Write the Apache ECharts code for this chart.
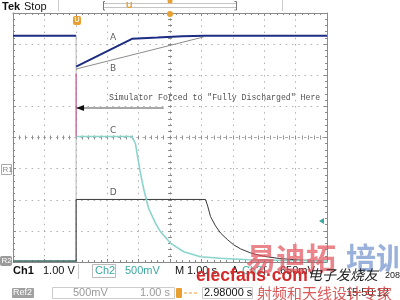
<!DOCTYPE html>
<html><head><meta charset="utf-8">
<script src="https://cdn.jsdelivr.net/npm/echarts@6/dist/echarts.min.js"></script>
<style>html,body{margin:0;padding:0;background:#fff}#c{width:400px;height:300px}</style>
</head><body><div id="c"></div>
<script>
// ---- data (time in divisions, level in divisions) ----
const aPreTime   = [0, 2.01];
const aPreLevel  = [7.27, 7.27];
const aTime  = [2.01, 3.79, 4.6, 5.4, 6.1, 10];
const aLevel = [6.28, 7.17, 7.21, 7.25, 7.27, 7.27];
const bTime  = [2.01, 6.07];
const bLevel = [6.20, 7.23];
const mTime  = [2.01, 2.01];
const mLevel = [6.06, 4.03];
const cPreTime  = [0, 2.01];
const cPreLevel = [0.03, 0.03];
const cTime  = [2.01, 3.79, 3.90, 3.97, 4.06, 4.17, 4.32, 4.54, 4.70, 5.02, 5.44, 5.97, 6.61, 7.5, 8.8, 10];
const cLevel = [4.03, 4.03, 3.80, 3.37, 2.85, 2.31, 1.72, 1.24, 0.97, 0.60, 0.33, 0.17, 0.12, 0.07, 0.05, 0.04];
const edgeTime  = [2.01, 2.01];
const edgeLevel = [0.03, 7.27];
const dTime  = [0, 2.01, 2.01, 6.13, 6.20, 6.29, 6.45, 6.61, 6.83, 7.03, 7.25, 7.57, 8.0, 8.5, 9.17, 10];
const dLevel = [0.03, 0.03, 2.01, 2.01, 1.80, 1.46, 1.16, 0.93, 0.72, 0.55, 0.42, 0.29, 0.18, 0.11, 0.06, 0.04];
const traceNames  = ['A', 'B', 'C', 'D'];
const traceLabelT = [3.19, 3.19, 3.19, 3.19];
const traceLabelV = [7.2, 6.2, 4.21, 2.22];
const noteText  = 'Simulator Forced to "Fully Discharged" Here';
const noteT = 3.04, noteV = 5.27;
const arrowT = [4.80, 2.04], arrowV = 4.95;

const zip = (t, v) => t.map((x, i) => [x, v[i]]);
const chart = echarts.init(document.getElementById('c'), null, {renderer: 'canvas'});

const G = '#8a8a8a';
function axis(dim, pos, offset, split, center) {
  return {
    type: 'value', gridIndex: 0, position: pos, offset: offset,
    min: 0, max: dim === 'x' ? 10 : 8, interval: 1,
    axisLine: {show: true, onZero: false, lineStyle: {color: center ? '#a8a8a8' : G, width: 1, type: center ? [1.5, 4.7] : 'solid'}},
    axisTick: {show: true, inside: true, length: center ? 2 : 3, lineStyle: {color: G}},
    minorTick: {show: true, splitNumber: 5, length: 2, lineStyle: {color: G}},
    axisLabel: {show: false},
    splitLine: {show: split, lineStyle: {color: '#b0b0b0', width: 1, type: [1.5, 4.7]}},
    minorSplitLine: {show: false}
  };
}

const orange = '#e8a030';
const teal = '#3aa8a0';
const txt = (x, y, s, style) => ({type: 'text', x: x, y: y, z: 100, style: Object.assign({text: s, fill: '#111', font: '11px "Liberation Sans"', verticalAlign: 'middle', align: 'left'}, style)});
const ln = (s, w, c) => ({type: 'line', symbol: 'none', data: s, lineStyle: {color: c, width: w}});

chart.setOption({
  animation: false,
  backgroundColor: '#fff',
  grid: {left: 13, right: 73, top: 13, bottom: 38},
  xAxis: [axis('x', 'bottom', 0, true), axis('x', 'top', 0, false), axis('x', 'bottom', -124.5, false, true), axis('x', 'top', -124.5, false, true)],
  yAxis: [axis('y', 'left', 0, true), axis('y', 'right', 0, false), axis('y', 'left', -157, false, true), axis('y', 'right', -157, false, true)],
  series: [
    ln(zip(edgeTime, edgeLevel), 0.8, '#a6a6a6'),
    ln(zip(cPreTime, cPreLevel), 1.5, '#6cc6bc'),
    ln(zip(dTime, dLevel), 1, '#3a3a3a'),
    ln(zip(cTime, cLevel), 1.6, '#8ad4cc'),
    ln(zip(bTime, bLevel), 1, '#8c8c8c'),
    ln(zip(aPreTime, aPreLevel), 2, '#1c2c82'),
    ln(zip(aTime, aLevel), 2, '#1c2c82'),
    ln(zip(mTime, mLevel), 1, '#d04a8a'),
    {type: 'line', data: zip(arrowT, [arrowV, arrowV]), symbol: 'none', lineStyle: {color: '#8a8a8a', width: 1.6},
      markPoint: {symbol: 'triangle', symbolSize: [6, 8], symbolRotate: 90, symbolOffset: [3, 0], itemStyle: {color: '#111'}, label: {show: false},
        data: [{coord: [arrowT[1], arrowV]}]}},
    {type: 'scatter', data: traceLabelT.map((t, i) => [t, traceLabelV[i], traceNames[i]]), symbolSize: 1,
      itemStyle: {color: 'transparent'},
      label: {show: true, position: 'inside', formatter: p => p.value[2], color: '#333', fontSize: 9, fontFamily: 'DejaVu Sans'}},
    {type: 'scatter', data: [[noteT, noteV, noteText]], symbolSize: 1, itemStyle: {color: 'transparent'},
      label: {show: true, position: 'right', distance: 0, formatter: p => p.value[2], color: '#222', fontSize: 8.2, fontFamily: 'Liberation Mono'}}
  ],
  graphic: [
    // top bar
    txt(2, 7, 'Tek', {font: 'bold 11px "Liberation Sans"'}),
    txt(24, 7, 'Stop', {font: '11px "Liberation Sans"'}),
    {type: 'line', shape: {x1: 58.5, y1: 0, x2: 58.5, y2: 11}, style: {stroke: '#ccc'}},
    {type: 'line', shape: {x1: 282.5, y1: 0, x2: 282.5, y2: 11}, style: {stroke: '#ccc'}},
    {type: 'rect', shape: {x: 103.5, y: 3.5, width: 133, height: 4}, style: {fill: 'none', stroke: '#c4c4c4'}},
    {type: 'polyline', shape: {points: [[105, 1.5], [103.5, 1.5], [103.5, 10], [105, 10]]}, style: {fill: 'none', stroke: '#777'}},
    {type: 'polyline', shape: {points: [[234.5, 1.5], [236.5, 1.5], [236.5, 10], [234.5, 10]]}, style: {fill: 'none', stroke: '#777'}},
    txt(126, 6, 'U', {font: 'bold 9px "Liberation Sans"', fill: orange}),
    {type: 'circle', shape: {cx: 170, cy: 1, r: 2.5}, style: {fill: orange}},
    // trigger position marker in plot
    {type: 'rect', shape: {x: 73, y: 16, width: 8, height: 9, r: 2}, style: {fill: orange}, z: 100},
    txt(74.5, 20.5, 'U', {font: 'bold 7px "Liberation Sans"', fill: '#fff3dc'}),
    {type: 'circle', shape: {cx: 170, cy: 14, r: 3}, style: {fill: orange}, z: 100},
    // side markers
    {type: 'rect', shape: {x: 1.5, y: 164.5, width: 10, height: 10}, style: {fill: '#fff', stroke: '#aaa'}},
    txt(2.5, 170, 'R1', {font: '8px "Liberation Sans"', fill: '#888'}),
    {type: 'rect', shape: {x: 0, y: 256, width: 12, height: 10, r: 2}, style: {fill: '#9a9a9a'}},
    txt(1.5, 261, 'R2', {font: '8px "Liberation Sans"', fill: '#fff'}),
    {type: 'polygon', shape: {points: [[319, 221], [324, 218], [324, 224]]}, style: {fill: teal}, z: 100},
    // bottom row 1
    txt(13, 271, 'Ch1', {font: 'bold 11px "Liberation Sans"'}),
    txt(43, 271, '1.00 V'),
    {type: 'line', shape: {x1: 78.5, y1: 264, x2: 78.5, y2: 279}, style: {stroke: '#ccc'}},
    {type: 'rect', shape: {x: 92.5, y: 264.5, width: 23, height: 13}, style: {fill: 'none', stroke: '#bbb'}},
    txt(95, 271, 'Ch2', {fill: teal}),
    txt(125, 271, '500mV', {fill: teal}),
    txt(175, 271, 'M'),
    txt(187, 271, '1.00 s'),
    txt(231, 271, 'A'),
    txt(242, 271, 'Ch2', {fill: teal}),
    txt(263, 271, '∫', {fill: '#444'}),
    txt(280, 271, '650mV'),
    // bottom row 2
    {type: 'rect', shape: {x: 12, y: 288, width: 22, height: 10, r: 1}, style: {fill: '#a0a0a0'}},
    txt(13, 293, 'Ref2', {font: '9px "Liberation Sans"', fill: '#fff'}),
    {type: 'rect', shape: {x: 52.5, y: 287.5, width: 122, height: 11}, style: {fill: 'none', stroke: '#ccc'}},
    txt(73, 293, '500mV', {fill: '#999'}),
    txt(140, 293, '1.00 s', {fill: '#999'}),
    {type: 'rect', shape: {x: 176, y: 288, width: 6, height: 10, r: 1}, style: {fill: orange}},
    {type: 'line', shape: {x1: 184, y1: 293, x2: 199, y2: 293}, style: {stroke: orange, lineDash: [3, 2]}},
    {type: 'rect', shape: {x: 202.5, y: 287.5, width: 50, height: 11}, style: {fill: 'none', stroke: '#ccc'}},
    txt(204, 293, '2.98000 s'),
    txt(346, 293, '15:50:12', {fill: '#333'}),
    // watermarks
    txt(246, 258, '易迪拓', {font: 'bold 30px "Noto Sans CJK SC"', fill: 'rgba(226,80,90,0.7)'}),
    txt(346, 258, '培训', {font: 'bold 30px "Noto Sans CJK SC"', fill: 'rgba(100,135,200,0.65)'}),
    txt(196, 276, 'elecfans·com', {font: 'bold 17.5px "Liberation Sans"', fill: '#d42a2a'}),
    txt(308, 275, '电子发烧友', {font: 'italic 14px "Noto Sans CJK SC"', fill: '#222'}),
    txt(385, 276, '2087', {font: '9px "Liberation Sans"', fill: '#222'}),
    txt(257, 293, '射频和天线设计专家', {font: '15px "Noto Sans CJK SC"', fill: 'rgba(210,60,60,0.85)'})
  ]
});
</script></body></html>
